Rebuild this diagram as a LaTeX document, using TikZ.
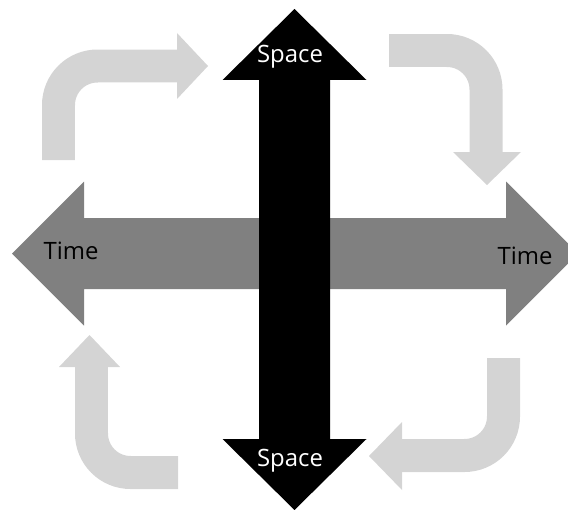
\documentclass[tikz,border=0pt]{standalone}
\usepackage{fontspec}
\setmainfont{Open Sans}
\usetikzlibrary{positioning}
\definecolor{spaceBlack}{RGB}{0,0,0}
\definecolor{timeGray}{RGB}{128,128,128}
\definecolor{cycleGray}{RGB}{212,212,212}

\begin{document}
\begin{tikzpicture}[x=0.02cm, y=-0.02cm,
      band/.style={draw=cycleGray, line width=0.66cm, rounded corners=0.78cm},
      head/.style={fill=cycleGray},
      axislabel/.style={font=\fontsize{13.6}{16}\selectfont, inner sep=0pt, anchor=base}
    ]
    \useasboundingbox (0,0) rectangle (568,510);
    \clip (0,0) rectangle (568,510);

    % time axis
    \fill[timeGray] (12,253.5) -- (84,181.5) -- (84,218) -- (506,218) -- (506,181.5) -- (578,253.5)
      -- (506,325.5) -- (506,289) -- (84,289) -- (84,325.5) -- cycle;
    % space axis
    \fill[spaceBlack] (294.5,9) -- (366.5,80) -- (330,80) -- (330,439) -- (366.5,439) -- (294.5,510)
      -- (222.5,439) -- (259,439) -- (259,80) -- (222.5,80) -- cycle;

    % cycle arrows
    \draw[band] (58.5,160) -- (58.5,66) -- (178,66);
    \fill[head] (177,33) -- (208,66) -- (177,99) -- cycle;
    \draw[band] (389,50.5) -- (486,50.5) -- (486,153);
    \fill[head] (453,152) -- (487,185) -- (521,152) -- cycle;
    \draw[band] (503.5,358) -- (503.5,455.5) -- (401,455.5);
    \fill[head] (402,422) -- (369,456) -- (402,490) -- cycle;
    \draw[band] (178,472.5) -- (91.5,472.5) -- (91.5,366);
    \fill[head] (59,367) -- (89.5,335) -- (120,367) -- cycle;

    \node[axislabel, text=white] (spaceTop) at (290,63) {Space};
    \node[axislabel, text=white] (spaceBottom) at (290,466) {Space};
    \node[axislabel] (timeLeft) at (71,259) {Time};
    \node[axislabel] (timeRight) at (525,264) {Time};
  \end{tikzpicture}
\end{document}
